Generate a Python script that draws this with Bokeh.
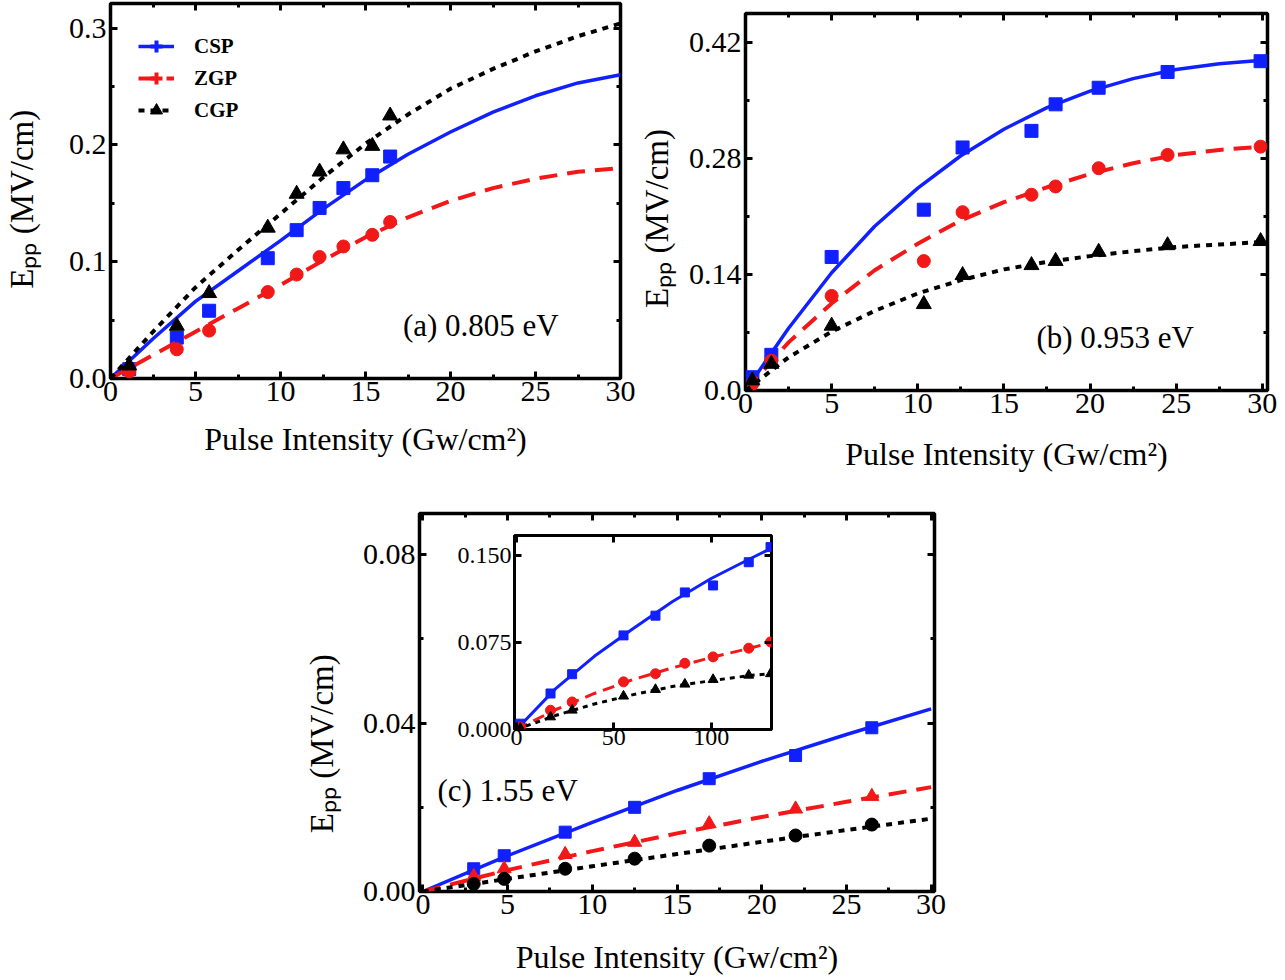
import math
from bokeh.plotting import figure
from bokeh.models import (FixedTicker, LinearAxis, Label, Legend, LegendItem,
                          GridBox, Spacer, Range1d)
from bokeh.layouts import column, row
from bokeh.embed import file_html
from bokeh.resources import INLINE

FONT = "Liberation Serif"
BLUE = "#1020ff"
RED = "#f21818"
BLACK = "#000000"
NAN = float("nan")

# ---------------- data ----------------
# panel (a) 0.805 eV
x_a = [1.1, 3.9, 5.8, 9.25, 10.95, 12.3, 13.7, 15.4, 16.45]
csp_a = [0.008, 0.035, 0.058, 0.103, 0.127, 0.146, 0.163, 0.174, 0.190]
zgp_a = [0.006, 0.025, 0.041, 0.074, 0.089, 0.104, 0.113, 0.123, 0.134]
cgp_a = [0.011, 0.045, 0.073, 0.129, 0.158, 0.177, 0.196, 0.199, 0.225]
fx_a = [0, 2.5, 5, 7.5, 10, 12.5, 15, 17.5, 20, 22.5, 25, 27.5, 30]
fit_csp_a = [0, 0.034, 0.066, 0.092, 0.118, 0.145, 0.170, 0.192, 0.211, 0.228, 0.242, 0.253, 0.260]
fit_zgp_a = [0, 0.020, 0.040, 0.060, 0.080, 0.101, 0.121, 0.138, 0.152, 0.163, 0.171, 0.177, 0.180]
fit_cgp_a = [0, 0.040, 0.078, 0.110, 0.141, 0.172, 0.201, 0.226, 0.248, 0.265, 0.280, 0.293, 0.304]

# panel (b) 0.953 eV
x_b = [0.4, 1.5, 5.0, 10.35, 12.6, 16.6, 18.0, 20.5, 24.5, 29.9]
csp_b = [0.016, 0.043, 0.161, 0.218, 0.293, 0.313, 0.345, 0.365, 0.384, 0.397]
zgp_b = [0.008, 0.036, 0.114, 0.156, 0.215, 0.236, 0.246, 0.268, 0.284, 0.294]
cgp_b = [0.012, 0.032, 0.078, 0.104, 0.139, 0.151, 0.156, 0.167, 0.175, 0.180]
fx_b = [0, 2.5, 5, 7.5, 10, 12.5, 15, 17.5, 20, 22.5, 25, 27.5, 30]
fit_csp_b = [0, 0.075, 0.142, 0.198, 0.244, 0.283, 0.315, 0.341, 0.361, 0.376, 0.387, 0.394, 0.398]
fit_zgp_b = [0, 0.058, 0.105, 0.145, 0.177, 0.205, 0.227, 0.245, 0.261, 0.274, 0.284, 0.290, 0.294]
fit_cgp_b = [0, 0.040, 0.071, 0.096, 0.117, 0.133, 0.146, 0.155, 0.162, 0.168, 0.173, 0.176, 0.179]

# panel (c) 1.55 eV
x_c = [3.0, 4.8, 8.4, 12.5, 16.9, 22.0, 26.5]
csp_c = [0.0054, 0.0085, 0.0141, 0.0200, 0.0268, 0.0323, 0.0389]
zgp_c = [0.0036, 0.0054, 0.0088, 0.0117, 0.0161, 0.0196, 0.0226]
cgp_c = [0.0018, 0.0030, 0.0054, 0.0078, 0.0109, 0.0133, 0.0159]
fx_c = [0, 5, 10, 15, 20, 25, 30]
fit_csp_c = [0, 0.0085, 0.0164, 0.0240, 0.0309, 0.0373, 0.0434]
fit_zgp_c = [0, 0.0051, 0.0096, 0.0138, 0.0177, 0.0213, 0.0248]
fit_cgp_c = [0, 0.0030, 0.0060, 0.0089, 0.0118, 0.0146, 0.0173]

# inset of (c)
x_in = [2, 17.5, 28.6, 55, 71.4, 86.5, 101, 119.3, 130.5]
csp_in = [0.005, 0.031, 0.0476, 0.081, 0.098, 0.118, 0.124, 0.144, 0.157]
zgp_in = [0.002, 0.0166, 0.0237, 0.041, 0.048, 0.057, 0.0625, 0.070, 0.0754]
cgp_in = [0.001, 0.0108, 0.0166, 0.0287, 0.0344, 0.039, 0.043, 0.0467, 0.048]
fx_in = [0, 20, 40, 60, 80, 100, 120, 131]
fit_csp_in = [0, 0.035, 0.063, 0.087, 0.110, 0.130, 0.147, 0.156]
fit_zgp_in = [0, 0.017, 0.031, 0.043, 0.053, 0.062, 0.070, 0.075]
fit_cgp_in = [0, 0.012, 0.022, 0.030, 0.037, 0.042, 0.0465, 0.048]

# ticks
x_ticks = [0, 5, 10, 15, 20, 25, 30]
x_minor = [2.5, 7.5, 12.5, 17.5, 22.5, 27.5]
x_tick_labels = ["0", "5", "10", "15", "20", "25", "30"]
ya_ticks = [0.0, 0.1, 0.2, 0.3]
ya_minor = [0.05, 0.15, 0.25]
ya_labels = ["0.0", "0.1", "0.2", "0.3"]
yb_ticks = [0.0, 0.14, 0.28, 0.42]
yb_minor = [0.07, 0.21, 0.35]
yb_labels = ["0.0", "0.14", "0.28", "0.42"]
yc_ticks = [0.0, 0.04, 0.08]
yc_minor = [0.02, 0.06]
yc_labels = ["0.00", "0.04", "0.08"]
xin_ticks = [0, 50, 100]
xin_labels = ["0", "50", "100"]
yin_ticks = [0.0, 0.075, 0.150]
yin_labels = ["0.000", "0.075", "0.150"]

legend_names = ["CSP", "ZGP", "CGP"]
xlabel_text = "Pulse Intensity (Gw/cm²)"
ylabel_text = "E\u209a\u209a (MV/cm)"
NBSP = "\u00a0"


def style_axis(ax, ticks, minor, labels, fs, standoff, show=True):
    ax.ticker = FixedTicker(ticks=ticks, minor_ticks=minor)
    ax.axis_line_color = None
    ax.major_tick_in = 7
    ax.major_tick_out = 0
    ax.minor_tick_in = 4
    ax.minor_tick_out = 0
    ax.major_tick_line_width = 3
    ax.minor_tick_line_width = 3
    ax.major_tick_line_color = "black"
    ax.minor_tick_line_color = "black"
    ax.major_label_text_font = FONT
    if show:
        ax.major_label_overrides = dict(zip(ticks, labels))
        ax.major_label_text_color = "black"
        ax.major_label_text_font_size = fs
        ax.major_label_standoff = standoff
    else:
        # mirror axis: ticks only, no labels
        ax.major_label_text_color = None
        ax.major_label_text_alpha = 0
        ax.major_label_text_font_size = "0px"
        ax.major_label_standoff = 0


class Panel:
    def __init__(self, w, h, bl, br, bt, bb, xr, yr, xt, xm, xl, yt, ym, yl, fs, xstand, ystand):
        p = figure(width=w, height=h, x_range=Range1d(*xr), y_range=Range1d(*yr),
                   output_backend="svg", toolbar_location=None,
                   min_border_left=bl, min_border_right=br, min_border_top=bt, min_border_bottom=bb)
        p.grid.visible = False
        p.outline_line_color = "black"
        p.outline_line_width = 3.5
        p.background_fill_color = "white"
        p.border_fill_color = "white"
        self.bottom = p.below[0]
        self.left = p.left[0]
        style_axis(self.bottom, xt, xm, xl, fs, xstand)
        style_axis(self.left, yt, ym, yl, fs, ystand)
        top = LinearAxis()
        style_axis(top, xt, xm, xl, fs, 0, show=False)
        right = LinearAxis()
        style_axis(right, yt, ym, yl, fs, 0, show=False)
        p.add_layout(top, "above")
        p.add_layout(right, "right")
        self.p = p
        self.fl = bl
        self.fb = h - bb
        self.sx = (w - bl - br) / (xr[1] - xr[0])
        self.sy = (h - bt - bb) / (yr[1] - yr[0])
        self.x0 = xr[0]
        self.y0 = yr[0]

    def to_data(self, px, py):
        return self.x0 + (px - self.fl) / self.sx, self.y0 + (self.fb - py) / self.sy

    def set_xlabel(self, standoff):
        ax = self.bottom
        ax.axis_label = xlabel_text
        ax.axis_label_text_font = FONT
        ax.axis_label_text_font_size = "32px"
        ax.axis_label_text_font_style = "normal"
        ax.axis_label_text_color = "black"
        ax.axis_label_standoff = standoff

    def set_ylabel(self, standoff, pad):
        ax = self.left
        ax.axis_label = ylabel_text + NBSP * pad
        ax.axis_label_text_font = FONT
        ax.axis_label_text_font_size = "33px"
        ax.axis_label_text_font_style = "normal"
        ax.axis_label_text_color = "black"
        ax.axis_label_standoff = standoff

    def add_note(self, px, py, txt):
        dx, dy = self.to_data(px, py)
        self.p.add_layout(Label(x=dx, y=dy, text=txt, text_font=FONT, text_font_size="31px",
                                text_baseline="middle", text_color="black"))


def draw(p, xs, ys, fx, fy, color, marker, size, dash, lw):
    r = p.line(fx, fy, line_color=color, line_width=lw, line_dash=dash)
    p.scatter(xs, ys, marker=marker, size=size, fill_color=color, line_color=color)
    return r


# ---------------- panel (a) ----------------  figure at page (0,0)
A = Panel(635, 478, 109, 15, 3, 100, (0, 30), (0, 0.321),
          x_ticks, x_minor, x_tick_labels, ya_ticks, ya_minor, ya_labels, "30px", 3, 4)
A.set_xlabel(17)
A.set_ylabel(26, 2)
p_a = A.p
la = draw(p_a, x_a, csp_a, fx_a, fit_csp_a, BLUE, "square", 13, "solid", 3.5)
lb = draw(p_a, x_a, zgp_a, fx_a, fit_zgp_a, RED, "circle", 13, "18 10", 4)
lc = draw(p_a, x_a, cgp_a, fx_a, fit_cgp_a, BLACK, "triangle", 15, "6 6", 4)
m1 = p_a.scatter([NAN], [NAN], marker="cross", size=14, line_width=4, line_color=BLUE)
m2 = p_a.scatter([NAN], [NAN], marker="cross", size=14, line_width=4, line_color=RED)
m3 = p_a.scatter([NAN], [NAN], marker="triangle", size=12, fill_color=BLACK, line_color=BLACK)
legend = Legend(items=[LegendItem(label=legend_names[0], renderers=[la, m1]),
                       LegendItem(label=legend_names[1], renderers=[lb, m2]),
                       LegendItem(label=legend_names[2], renderers=[lc, m3])],
                location="top_left", margin=28, padding=0, spacing=2,
                glyph_width=36, glyph_height=30, label_standoff=20,
                label_text_font=FONT, label_text_font_size="21px",
                label_text_font_style="bold", label_text_color="black",
                border_line_color=None, background_fill_alpha=0)
p_a.add_layout(legend)
A.add_note(402, 325, "(a) 0.805 eV")

# ---------------- panel (b) ----------------  figure at page (635,0)
B = Panel(650, 478, 108, 18, 13, 88, (0, 30.3), (0, 0.4545),
          x_ticks, x_minor, x_tick_labels, yb_ticks, yb_minor, yb_labels, "30px", 3, 4)
B.set_xlabel(20)
B.set_ylabel(11, 4)
p_b = B.p
draw(p_b, x_b, csp_b, fx_b, fit_csp_b, BLUE, "square", 13, "solid", 3.5)
draw(p_b, x_b, zgp_b, fx_b, fit_zgp_b, RED, "circle", 13, "18 10", 4)
draw(p_b, x_b, cgp_b, fx_b, fit_cgp_b, BLACK, "triangle", 15, "6 6", 4)
B.add_note(1035 - 635, 337, "(b) 0.953 eV")

# ---------------- panel (c) ----------------  figure at page (300,478)
C = Panel(650, 502, 118, 16, 35, 89, (-0.2, 30.2), (0, 0.0898),
          x_ticks, x_minor, x_tick_labels, yc_ticks, yc_minor, yc_labels, "30px", 3, 4)
C.set_xlabel(22)
C.set_ylabel(20, 10)
p_c = C.p
draw(p_c, x_c, csp_c, fx_c, fit_csp_c, BLUE, "square", 12, "solid", 3.5)
draw(p_c, x_c, zgp_c, fx_c, fit_zgp_c, RED, "triangle", 14, "18 10", 4)
draw(p_c, x_c, cgp_c, fx_c, fit_cgp_c, BLACK, "circle", 13, "6 6", 4)
C.add_note(436 - 300, 790 - 478, "(c) 1.55 eV")

# ---------------- inset ----------------  same size as (c), overlaid
I = Panel(650, 502, 214, 179, 57, 251, (-1.0, 131.0), (0, 0.167),
          xin_ticks, [], xin_labels, yin_ticks, [], yin_labels, "24px", 0, 3)
p_in = I.p
p_in.border_fill_alpha = 0
p_in.outline_line_width = 3
draw(p_in, x_in, csp_in, fx_in, fit_csp_in, BLUE, "square", 9, "solid", 3)
draw(p_in, x_in, zgp_in, fx_in, fit_zgp_in, RED, "circle", 10, "12 7", 3)
draw(p_in, x_in, cgp_in, fx_in, fit_cgp_in, BLACK, "triangle", 10, "5 5", 3)

grid_c = GridBox(children=[(column(p_c), 0, 0), (column(p_in), 0, 0)])
top_row = row(column(p_a), column(p_b))
layout = column(top_row, row(Spacer(width=300, height=502), grid_c))

open("out.html", "w").write(file_html(layout, INLINE))
